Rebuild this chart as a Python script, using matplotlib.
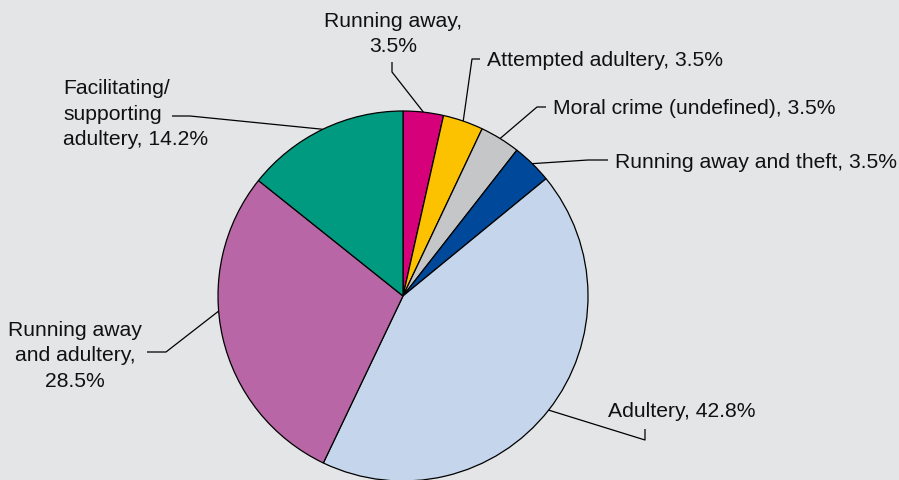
import numpy as np
import matplotlib.pyplot as plt

plt.rcParams['font.family'] = ['Liberation Sans', 'DejaVu Sans']

# slices, clockwise from 12 o'clock
categories = ['Running away', 'Attempted adultery', 'Moral crime (undefined)',
              'Running away and theft', 'Adultery', 'Running away and adultery',
              'Facilitating/supporting adultery']
shares = [3.5, 3.5, 3.5, 3.5, 42.8, 28.5, 14.2]
labels = ['Running away,\n3.5%', 'Attempted adultery, 3.5%', 'Moral crime (undefined), 3.5%',
          'Running away and theft, 3.5%', 'Adultery, 42.8%', 'Running away\nand adultery,\n28.5%',
          'Facilitating/\nsupporting\nadultery, 14.2%']
colors = ['#d6007a', '#fcc200', '#c4c6c8', '#00489a', '#c5d5ec', '#b866a5', '#009a80']

W, H = 899, 481
bg = '#e4e5e7'
cx, cy, r = 403, H - 297, 185

# label placement (pixels from top-left): text pos, ha, multialign, elbow points, where on wedge
layout = [
    ((393, 34), 'center', 'center', [(392, 63), (392, 73)], 0.5),
    ((487, 60), 'left', 'left', [(480, 60), (472, 60)], 0.5),
    ((553, 108), 'left', 'left', [(546, 108), (537, 108)], 0.5),
    ((615, 162), 'left', 'left', [(608, 161), (588, 161)], 0.5),
    ((608, 412), 'left', 'left', [(645, 430), (645, 441)], 0.5),
    ((75, 356), 'center', 'center', [(147, 353), (166, 353)], 0.42),
    ((63, 114), 'left', 'left', [(172, 117), (190, 117)], 0.5),
]

fig = plt.figure(figsize=(W / 100, H / 100), dpi=100, facecolor=bg)
ax = fig.add_axes([0, 0, 1, 1])
ax.set_facecolor(bg)

wedges, _ = ax.pie(shares, colors=colors, startangle=90, counterclock=False,
                   center=(cx, cy), radius=r,
                   wedgeprops=dict(edgecolor='black', linewidth=0.9))

for w, lab, (tpos, ha, ma, elbow, frac) in zip(wedges, labels, layout):
    ang = np.deg2rad(w.theta1 + frac * (w.theta2 - w.theta1))
    ex, ey = cx + r * np.cos(ang), cy + r * np.sin(ang)
    xs = [p[0] for p in elbow] + [ex]
    ys = [H - p[1] for p in elbow] + [ey]
    ax.plot(xs, ys, color='black', lw=0.9, solid_capstyle='butt')
    ax.text(tpos[0], H - tpos[1], lab, ha=ha, va='center', multialignment=ma,
            fontsize=15.2, color='#111111', linespacing=1.42)

ax.set_xlim(0, W)
ax.set_ylim(0, H)
ax.set_aspect('equal')
ax.axis('off')

plt.savefig('out.png', dpi=100, facecolor=bg)
